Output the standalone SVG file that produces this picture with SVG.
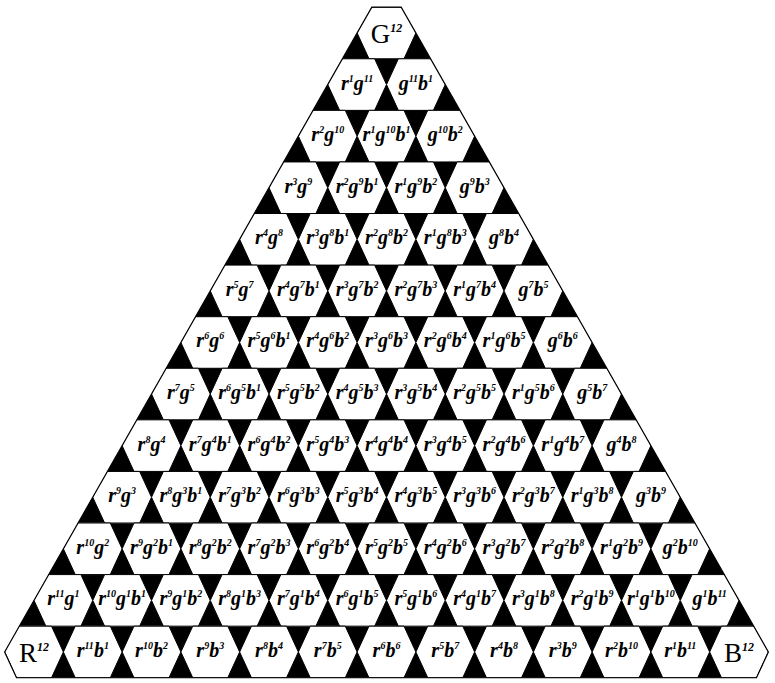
<svg xmlns="http://www.w3.org/2000/svg" width="775" height="683" viewBox="0 0 775 683">
<style>
.hx{fill:#fff;stroke:#000;stroke-width:1}
.l{font-family:"Liberation Serif","DejaVu Serif",serif;font-size:20px;font-style:italic;font-weight:bold;text-anchor:middle;fill:#000}
.e{font-size:10px}
.c{font-family:"Liberation Serif","DejaVu Serif",serif;font-size:27px;text-anchor:middle;fill:#000}
.ce{font-size:12px;font-style:italic;font-weight:bold}
.seam{stroke:#777;stroke-width:1}
</style>
<defs>
<polygon id="hx" class="hx" points="-29.375,0 -17.5,-25.79 17.5,-25.79 29.375,0 17.5,25.79 -17.5,25.79"/>
<clipPath id="tri"><polygon points="371.81,7.21 401.19,7.21 768.38,651.96 756.5,677.75 16.5,677.75 4.63,651.96"/></clipPath>
</defs>
<rect width="775" height="683" fill="#fff"/>
<polygon id="field" points="371.81,7.21 401.19,7.21 768.38,651.96 756.5,677.75 16.5,677.75 4.63,651.96" fill="#000"/>
<g id="connectors" clip-path="url(#tri)">
<line class="seam" x1="0" y1="523.01" x2="775" y2="523.01"/>
<line class="seam" x1="0" y1="574.59" x2="775" y2="574.59"/>
<line class="seam" x1="0" y1="626.17" x2="775" y2="626.17"/>
</g>
<g id="nodes" clip-path="url(#tri)">
<g id="n0-0" transform="translate(386.5,33)"><use href="#hx"/><text class="c" y="10">G<tspan class="ce" dy="-11">12</tspan></text></g>

<g id="n1-0" transform="translate(357.13,84.58)"><use href="#hx"/><text class="l" y="5">r<tspan class="e" dy="-8">1</tspan><tspan dy="8">g</tspan><tspan class="e" dy="-8">11</tspan></text></g>
<g id="n1-1" transform="translate(415.88,84.58)"><use href="#hx"/><text class="l" y="5">g<tspan class="e" dy="-8">11</tspan><tspan dy="8">b</tspan><tspan class="e" dy="-8">1</tspan></text></g>

<g id="n2-0" transform="translate(327.75,136.16)"><use href="#hx"/><text class="l" y="5">r<tspan class="e" dy="-8">2</tspan><tspan dy="8">g</tspan><tspan class="e" dy="-8">10</tspan></text></g>
<g id="n2-1" transform="translate(386.5,136.16)"><use href="#hx"/><text class="l" y="5">r<tspan class="e" dy="-8">1</tspan><tspan dy="8">g</tspan><tspan class="e" dy="-8">10</tspan><tspan dy="8">b</tspan><tspan class="e" dy="-8">1</tspan></text></g>
<g id="n2-2" transform="translate(445.25,136.16)"><use href="#hx"/><text class="l" y="5">g<tspan class="e" dy="-8">10</tspan><tspan dy="8">b</tspan><tspan class="e" dy="-8">2</tspan></text></g>

<g id="n3-0" transform="translate(298.38,187.74)"><use href="#hx"/><text class="l" y="5">r<tspan class="e" dy="-8">3</tspan><tspan dy="8">g</tspan><tspan class="e" dy="-8">9</tspan></text></g>
<g id="n3-1" transform="translate(357.13,187.74)"><use href="#hx"/><text class="l" y="5">r<tspan class="e" dy="-8">2</tspan><tspan dy="8">g</tspan><tspan class="e" dy="-8">9</tspan><tspan dy="8">b</tspan><tspan class="e" dy="-8">1</tspan></text></g>
<g id="n3-2" transform="translate(415.88,187.74)"><use href="#hx"/><text class="l" y="5">r<tspan class="e" dy="-8">1</tspan><tspan dy="8">g</tspan><tspan class="e" dy="-8">9</tspan><tspan dy="8">b</tspan><tspan class="e" dy="-8">2</tspan></text></g>
<g id="n3-3" transform="translate(474.63,187.74)"><use href="#hx"/><text class="l" y="5">g<tspan class="e" dy="-8">9</tspan><tspan dy="8">b</tspan><tspan class="e" dy="-8">3</tspan></text></g>

<g id="n4-0" transform="translate(269,239.32)"><use href="#hx"/><text class="l" y="5">r<tspan class="e" dy="-8">4</tspan><tspan dy="8">g</tspan><tspan class="e" dy="-8">8</tspan></text></g>
<g id="n4-1" transform="translate(327.75,239.32)"><use href="#hx"/><text class="l" y="5">r<tspan class="e" dy="-8">3</tspan><tspan dy="8">g</tspan><tspan class="e" dy="-8">8</tspan><tspan dy="8">b</tspan><tspan class="e" dy="-8">1</tspan></text></g>
<g id="n4-2" transform="translate(386.5,239.32)"><use href="#hx"/><text class="l" y="5">r<tspan class="e" dy="-8">2</tspan><tspan dy="8">g</tspan><tspan class="e" dy="-8">8</tspan><tspan dy="8">b</tspan><tspan class="e" dy="-8">2</tspan></text></g>
<g id="n4-3" transform="translate(445.25,239.32)"><use href="#hx"/><text class="l" y="5">r<tspan class="e" dy="-8">1</tspan><tspan dy="8">g</tspan><tspan class="e" dy="-8">8</tspan><tspan dy="8">b</tspan><tspan class="e" dy="-8">3</tspan></text></g>
<g id="n4-4" transform="translate(504,239.32)"><use href="#hx"/><text class="l" y="5">g<tspan class="e" dy="-8">8</tspan><tspan dy="8">b</tspan><tspan class="e" dy="-8">4</tspan></text></g>

<g id="n5-0" transform="translate(239.63,290.9)"><use href="#hx"/><text class="l" y="5">r<tspan class="e" dy="-8">5</tspan><tspan dy="8">g</tspan><tspan class="e" dy="-8">7</tspan></text></g>
<g id="n5-1" transform="translate(298.38,290.9)"><use href="#hx"/><text class="l" y="5">r<tspan class="e" dy="-8">4</tspan><tspan dy="8">g</tspan><tspan class="e" dy="-8">7</tspan><tspan dy="8">b</tspan><tspan class="e" dy="-8">1</tspan></text></g>
<g id="n5-2" transform="translate(357.13,290.9)"><use href="#hx"/><text class="l" y="5">r<tspan class="e" dy="-8">3</tspan><tspan dy="8">g</tspan><tspan class="e" dy="-8">7</tspan><tspan dy="8">b</tspan><tspan class="e" dy="-8">2</tspan></text></g>
<g id="n5-3" transform="translate(415.88,290.9)"><use href="#hx"/><text class="l" y="5">r<tspan class="e" dy="-8">2</tspan><tspan dy="8">g</tspan><tspan class="e" dy="-8">7</tspan><tspan dy="8">b</tspan><tspan class="e" dy="-8">3</tspan></text></g>
<g id="n5-4" transform="translate(474.63,290.9)"><use href="#hx"/><text class="l" y="5">r<tspan class="e" dy="-8">1</tspan><tspan dy="8">g</tspan><tspan class="e" dy="-8">7</tspan><tspan dy="8">b</tspan><tspan class="e" dy="-8">4</tspan></text></g>
<g id="n5-5" transform="translate(533.38,290.9)"><use href="#hx"/><text class="l" y="5">g<tspan class="e" dy="-8">7</tspan><tspan dy="8">b</tspan><tspan class="e" dy="-8">5</tspan></text></g>

<g id="n6-0" transform="translate(210.25,342.48)"><use href="#hx"/><text class="l" y="5">r<tspan class="e" dy="-8">6</tspan><tspan dy="8">g</tspan><tspan class="e" dy="-8">6</tspan></text></g>
<g id="n6-1" transform="translate(269,342.48)"><use href="#hx"/><text class="l" y="5">r<tspan class="e" dy="-8">5</tspan><tspan dy="8">g</tspan><tspan class="e" dy="-8">6</tspan><tspan dy="8">b</tspan><tspan class="e" dy="-8">1</tspan></text></g>
<g id="n6-2" transform="translate(327.75,342.48)"><use href="#hx"/><text class="l" y="5">r<tspan class="e" dy="-8">4</tspan><tspan dy="8">g</tspan><tspan class="e" dy="-8">6</tspan><tspan dy="8">b</tspan><tspan class="e" dy="-8">2</tspan></text></g>
<g id="n6-3" transform="translate(386.5,342.48)"><use href="#hx"/><text class="l" y="5">r<tspan class="e" dy="-8">3</tspan><tspan dy="8">g</tspan><tspan class="e" dy="-8">6</tspan><tspan dy="8">b</tspan><tspan class="e" dy="-8">3</tspan></text></g>
<g id="n6-4" transform="translate(445.25,342.48)"><use href="#hx"/><text class="l" y="5">r<tspan class="e" dy="-8">2</tspan><tspan dy="8">g</tspan><tspan class="e" dy="-8">6</tspan><tspan dy="8">b</tspan><tspan class="e" dy="-8">4</tspan></text></g>
<g id="n6-5" transform="translate(504,342.48)"><use href="#hx"/><text class="l" y="5">r<tspan class="e" dy="-8">1</tspan><tspan dy="8">g</tspan><tspan class="e" dy="-8">6</tspan><tspan dy="8">b</tspan><tspan class="e" dy="-8">5</tspan></text></g>
<g id="n6-6" transform="translate(562.75,342.48)"><use href="#hx"/><text class="l" y="5">g<tspan class="e" dy="-8">6</tspan><tspan dy="8">b</tspan><tspan class="e" dy="-8">6</tspan></text></g>

<g id="n7-0" transform="translate(180.88,394.06)"><use href="#hx"/><text class="l" y="5">r<tspan class="e" dy="-8">7</tspan><tspan dy="8">g</tspan><tspan class="e" dy="-8">5</tspan></text></g>
<g id="n7-1" transform="translate(239.63,394.06)"><use href="#hx"/><text class="l" y="5">r<tspan class="e" dy="-8">6</tspan><tspan dy="8">g</tspan><tspan class="e" dy="-8">5</tspan><tspan dy="8">b</tspan><tspan class="e" dy="-8">1</tspan></text></g>
<g id="n7-2" transform="translate(298.38,394.06)"><use href="#hx"/><text class="l" y="5">r<tspan class="e" dy="-8">5</tspan><tspan dy="8">g</tspan><tspan class="e" dy="-8">5</tspan><tspan dy="8">b</tspan><tspan class="e" dy="-8">2</tspan></text></g>
<g id="n7-3" transform="translate(357.13,394.06)"><use href="#hx"/><text class="l" y="5">r<tspan class="e" dy="-8">4</tspan><tspan dy="8">g</tspan><tspan class="e" dy="-8">5</tspan><tspan dy="8">b</tspan><tspan class="e" dy="-8">3</tspan></text></g>
<g id="n7-4" transform="translate(415.88,394.06)"><use href="#hx"/><text class="l" y="5">r<tspan class="e" dy="-8">3</tspan><tspan dy="8">g</tspan><tspan class="e" dy="-8">5</tspan><tspan dy="8">b</tspan><tspan class="e" dy="-8">4</tspan></text></g>
<g id="n7-5" transform="translate(474.63,394.06)"><use href="#hx"/><text class="l" y="5">r<tspan class="e" dy="-8">2</tspan><tspan dy="8">g</tspan><tspan class="e" dy="-8">5</tspan><tspan dy="8">b</tspan><tspan class="e" dy="-8">5</tspan></text></g>
<g id="n7-6" transform="translate(533.38,394.06)"><use href="#hx"/><text class="l" y="5">r<tspan class="e" dy="-8">1</tspan><tspan dy="8">g</tspan><tspan class="e" dy="-8">5</tspan><tspan dy="8">b</tspan><tspan class="e" dy="-8">6</tspan></text></g>
<g id="n7-7" transform="translate(592.13,394.06)"><use href="#hx"/><text class="l" y="5">g<tspan class="e" dy="-8">5</tspan><tspan dy="8">b</tspan><tspan class="e" dy="-8">7</tspan></text></g>

<g id="n8-0" transform="translate(151.5,445.64)"><use href="#hx"/><text class="l" y="5">r<tspan class="e" dy="-8">8</tspan><tspan dy="8">g</tspan><tspan class="e" dy="-8">4</tspan></text></g>
<g id="n8-1" transform="translate(210.25,445.64)"><use href="#hx"/><text class="l" y="5">r<tspan class="e" dy="-8">7</tspan><tspan dy="8">g</tspan><tspan class="e" dy="-8">4</tspan><tspan dy="8">b</tspan><tspan class="e" dy="-8">1</tspan></text></g>
<g id="n8-2" transform="translate(269,445.64)"><use href="#hx"/><text class="l" y="5">r<tspan class="e" dy="-8">6</tspan><tspan dy="8">g</tspan><tspan class="e" dy="-8">4</tspan><tspan dy="8">b</tspan><tspan class="e" dy="-8">2</tspan></text></g>
<g id="n8-3" transform="translate(327.75,445.64)"><use href="#hx"/><text class="l" y="5">r<tspan class="e" dy="-8">5</tspan><tspan dy="8">g</tspan><tspan class="e" dy="-8">4</tspan><tspan dy="8">b</tspan><tspan class="e" dy="-8">3</tspan></text></g>
<g id="n8-4" transform="translate(386.5,445.64)"><use href="#hx"/><text class="l" y="5">r<tspan class="e" dy="-8">4</tspan><tspan dy="8">g</tspan><tspan class="e" dy="-8">4</tspan><tspan dy="8">b</tspan><tspan class="e" dy="-8">4</tspan></text></g>
<g id="n8-5" transform="translate(445.25,445.64)"><use href="#hx"/><text class="l" y="5">r<tspan class="e" dy="-8">3</tspan><tspan dy="8">g</tspan><tspan class="e" dy="-8">4</tspan><tspan dy="8">b</tspan><tspan class="e" dy="-8">5</tspan></text></g>
<g id="n8-6" transform="translate(504,445.64)"><use href="#hx"/><text class="l" y="5">r<tspan class="e" dy="-8">2</tspan><tspan dy="8">g</tspan><tspan class="e" dy="-8">4</tspan><tspan dy="8">b</tspan><tspan class="e" dy="-8">6</tspan></text></g>
<g id="n8-7" transform="translate(562.75,445.64)"><use href="#hx"/><text class="l" y="5">r<tspan class="e" dy="-8">1</tspan><tspan dy="8">g</tspan><tspan class="e" dy="-8">4</tspan><tspan dy="8">b</tspan><tspan class="e" dy="-8">7</tspan></text></g>
<g id="n8-8" transform="translate(621.5,445.64)"><use href="#hx"/><text class="l" y="5">g<tspan class="e" dy="-8">4</tspan><tspan dy="8">b</tspan><tspan class="e" dy="-8">8</tspan></text></g>

<g id="n9-0" transform="translate(122.13,497.22)"><use href="#hx"/><text class="l" y="5">r<tspan class="e" dy="-8">9</tspan><tspan dy="8">g</tspan><tspan class="e" dy="-8">3</tspan></text></g>
<g id="n9-1" transform="translate(180.88,497.22)"><use href="#hx"/><text class="l" y="5">r<tspan class="e" dy="-8">8</tspan><tspan dy="8">g</tspan><tspan class="e" dy="-8">3</tspan><tspan dy="8">b</tspan><tspan class="e" dy="-8">1</tspan></text></g>
<g id="n9-2" transform="translate(239.63,497.22)"><use href="#hx"/><text class="l" y="5">r<tspan class="e" dy="-8">7</tspan><tspan dy="8">g</tspan><tspan class="e" dy="-8">3</tspan><tspan dy="8">b</tspan><tspan class="e" dy="-8">2</tspan></text></g>
<g id="n9-3" transform="translate(298.38,497.22)"><use href="#hx"/><text class="l" y="5">r<tspan class="e" dy="-8">6</tspan><tspan dy="8">g</tspan><tspan class="e" dy="-8">3</tspan><tspan dy="8">b</tspan><tspan class="e" dy="-8">3</tspan></text></g>
<g id="n9-4" transform="translate(357.13,497.22)"><use href="#hx"/><text class="l" y="5">r<tspan class="e" dy="-8">5</tspan><tspan dy="8">g</tspan><tspan class="e" dy="-8">3</tspan><tspan dy="8">b</tspan><tspan class="e" dy="-8">4</tspan></text></g>
<g id="n9-5" transform="translate(415.88,497.22)"><use href="#hx"/><text class="l" y="5">r<tspan class="e" dy="-8">4</tspan><tspan dy="8">g</tspan><tspan class="e" dy="-8">3</tspan><tspan dy="8">b</tspan><tspan class="e" dy="-8">5</tspan></text></g>
<g id="n9-6" transform="translate(474.63,497.22)"><use href="#hx"/><text class="l" y="5">r<tspan class="e" dy="-8">3</tspan><tspan dy="8">g</tspan><tspan class="e" dy="-8">3</tspan><tspan dy="8">b</tspan><tspan class="e" dy="-8">6</tspan></text></g>
<g id="n9-7" transform="translate(533.38,497.22)"><use href="#hx"/><text class="l" y="5">r<tspan class="e" dy="-8">2</tspan><tspan dy="8">g</tspan><tspan class="e" dy="-8">3</tspan><tspan dy="8">b</tspan><tspan class="e" dy="-8">7</tspan></text></g>
<g id="n9-8" transform="translate(592.13,497.22)"><use href="#hx"/><text class="l" y="5">r<tspan class="e" dy="-8">1</tspan><tspan dy="8">g</tspan><tspan class="e" dy="-8">3</tspan><tspan dy="8">b</tspan><tspan class="e" dy="-8">8</tspan></text></g>
<g id="n9-9" transform="translate(650.88,497.22)"><use href="#hx"/><text class="l" y="5">g<tspan class="e" dy="-8">3</tspan><tspan dy="8">b</tspan><tspan class="e" dy="-8">9</tspan></text></g>

<g id="n10-0" transform="translate(92.75,548.8)"><use href="#hx"/><text class="l" y="5">r<tspan class="e" dy="-8">10</tspan><tspan dy="8">g</tspan><tspan class="e" dy="-8">2</tspan></text></g>
<g id="n10-1" transform="translate(151.5,548.8)"><use href="#hx"/><text class="l" y="5">r<tspan class="e" dy="-8">9</tspan><tspan dy="8">g</tspan><tspan class="e" dy="-8">2</tspan><tspan dy="8">b</tspan><tspan class="e" dy="-8">1</tspan></text></g>
<g id="n10-2" transform="translate(210.25,548.8)"><use href="#hx"/><text class="l" y="5">r<tspan class="e" dy="-8">8</tspan><tspan dy="8">g</tspan><tspan class="e" dy="-8">2</tspan><tspan dy="8">b</tspan><tspan class="e" dy="-8">2</tspan></text></g>
<g id="n10-3" transform="translate(269,548.8)"><use href="#hx"/><text class="l" y="5">r<tspan class="e" dy="-8">7</tspan><tspan dy="8">g</tspan><tspan class="e" dy="-8">2</tspan><tspan dy="8">b</tspan><tspan class="e" dy="-8">3</tspan></text></g>
<g id="n10-4" transform="translate(327.75,548.8)"><use href="#hx"/><text class="l" y="5">r<tspan class="e" dy="-8">6</tspan><tspan dy="8">g</tspan><tspan class="e" dy="-8">2</tspan><tspan dy="8">b</tspan><tspan class="e" dy="-8">4</tspan></text></g>
<g id="n10-5" transform="translate(386.5,548.8)"><use href="#hx"/><text class="l" y="5">r<tspan class="e" dy="-8">5</tspan><tspan dy="8">g</tspan><tspan class="e" dy="-8">2</tspan><tspan dy="8">b</tspan><tspan class="e" dy="-8">5</tspan></text></g>
<g id="n10-6" transform="translate(445.25,548.8)"><use href="#hx"/><text class="l" y="5">r<tspan class="e" dy="-8">4</tspan><tspan dy="8">g</tspan><tspan class="e" dy="-8">2</tspan><tspan dy="8">b</tspan><tspan class="e" dy="-8">6</tspan></text></g>
<g id="n10-7" transform="translate(504,548.8)"><use href="#hx"/><text class="l" y="5">r<tspan class="e" dy="-8">3</tspan><tspan dy="8">g</tspan><tspan class="e" dy="-8">2</tspan><tspan dy="8">b</tspan><tspan class="e" dy="-8">7</tspan></text></g>
<g id="n10-8" transform="translate(562.75,548.8)"><use href="#hx"/><text class="l" y="5">r<tspan class="e" dy="-8">2</tspan><tspan dy="8">g</tspan><tspan class="e" dy="-8">2</tspan><tspan dy="8">b</tspan><tspan class="e" dy="-8">8</tspan></text></g>
<g id="n10-9" transform="translate(621.5,548.8)"><use href="#hx"/><text class="l" y="5">r<tspan class="e" dy="-8">1</tspan><tspan dy="8">g</tspan><tspan class="e" dy="-8">2</tspan><tspan dy="8">b</tspan><tspan class="e" dy="-8">9</tspan></text></g>
<g id="n10-10" transform="translate(680.25,548.8)"><use href="#hx"/><text class="l" y="5">g<tspan class="e" dy="-8">2</tspan><tspan dy="8">b</tspan><tspan class="e" dy="-8">10</tspan></text></g>

<g id="n11-0" transform="translate(63.38,600.38)"><use href="#hx"/><text class="l" y="5">r<tspan class="e" dy="-8">11</tspan><tspan dy="8">g</tspan><tspan class="e" dy="-8">1</tspan></text></g>
<g id="n11-1" transform="translate(122.13,600.38)"><use href="#hx"/><text class="l" y="5">r<tspan class="e" dy="-8">10</tspan><tspan dy="8">g</tspan><tspan class="e" dy="-8">1</tspan><tspan dy="8">b</tspan><tspan class="e" dy="-8">1</tspan></text></g>
<g id="n11-2" transform="translate(180.88,600.38)"><use href="#hx"/><text class="l" y="5">r<tspan class="e" dy="-8">9</tspan><tspan dy="8">g</tspan><tspan class="e" dy="-8">1</tspan><tspan dy="8">b</tspan><tspan class="e" dy="-8">2</tspan></text></g>
<g id="n11-3" transform="translate(239.63,600.38)"><use href="#hx"/><text class="l" y="5">r<tspan class="e" dy="-8">8</tspan><tspan dy="8">g</tspan><tspan class="e" dy="-8">1</tspan><tspan dy="8">b</tspan><tspan class="e" dy="-8">3</tspan></text></g>
<g id="n11-4" transform="translate(298.38,600.38)"><use href="#hx"/><text class="l" y="5">r<tspan class="e" dy="-8">7</tspan><tspan dy="8">g</tspan><tspan class="e" dy="-8">1</tspan><tspan dy="8">b</tspan><tspan class="e" dy="-8">4</tspan></text></g>
<g id="n11-5" transform="translate(357.13,600.38)"><use href="#hx"/><text class="l" y="5">r<tspan class="e" dy="-8">6</tspan><tspan dy="8">g</tspan><tspan class="e" dy="-8">1</tspan><tspan dy="8">b</tspan><tspan class="e" dy="-8">5</tspan></text></g>
<g id="n11-6" transform="translate(415.88,600.38)"><use href="#hx"/><text class="l" y="5">r<tspan class="e" dy="-8">5</tspan><tspan dy="8">g</tspan><tspan class="e" dy="-8">1</tspan><tspan dy="8">b</tspan><tspan class="e" dy="-8">6</tspan></text></g>
<g id="n11-7" transform="translate(474.63,600.38)"><use href="#hx"/><text class="l" y="5">r<tspan class="e" dy="-8">4</tspan><tspan dy="8">g</tspan><tspan class="e" dy="-8">1</tspan><tspan dy="8">b</tspan><tspan class="e" dy="-8">7</tspan></text></g>
<g id="n11-8" transform="translate(533.38,600.38)"><use href="#hx"/><text class="l" y="5">r<tspan class="e" dy="-8">3</tspan><tspan dy="8">g</tspan><tspan class="e" dy="-8">1</tspan><tspan dy="8">b</tspan><tspan class="e" dy="-8">8</tspan></text></g>
<g id="n11-9" transform="translate(592.13,600.38)"><use href="#hx"/><text class="l" y="5">r<tspan class="e" dy="-8">2</tspan><tspan dy="8">g</tspan><tspan class="e" dy="-8">1</tspan><tspan dy="8">b</tspan><tspan class="e" dy="-8">9</tspan></text></g>
<g id="n11-10" transform="translate(650.88,600.38)"><use href="#hx"/><text class="l" y="5">r<tspan class="e" dy="-8">1</tspan><tspan dy="8">g</tspan><tspan class="e" dy="-8">1</tspan><tspan dy="8">b</tspan><tspan class="e" dy="-8">10</tspan></text></g>
<g id="n11-11" transform="translate(709.63,600.38)"><use href="#hx"/><text class="l" y="5">g<tspan class="e" dy="-8">1</tspan><tspan dy="8">b</tspan><tspan class="e" dy="-8">11</tspan></text></g>

<g id="n12-0" transform="translate(34,651.96)"><use href="#hx"/><text class="c" y="10">R<tspan class="ce" dy="-11">12</tspan></text></g>
<g id="n12-1" transform="translate(92.75,651.96)"><use href="#hx"/><text class="l" y="5">r<tspan class="e" dy="-8">11</tspan><tspan dy="8">b</tspan><tspan class="e" dy="-8">1</tspan></text></g>
<g id="n12-2" transform="translate(151.5,651.96)"><use href="#hx"/><text class="l" y="5">r<tspan class="e" dy="-8">10</tspan><tspan dy="8">b</tspan><tspan class="e" dy="-8">2</tspan></text></g>
<g id="n12-3" transform="translate(210.25,651.96)"><use href="#hx"/><text class="l" y="5">r<tspan class="e" dy="-8">9</tspan><tspan dy="8">b</tspan><tspan class="e" dy="-8">3</tspan></text></g>
<g id="n12-4" transform="translate(269,651.96)"><use href="#hx"/><text class="l" y="5">r<tspan class="e" dy="-8">8</tspan><tspan dy="8">b</tspan><tspan class="e" dy="-8">4</tspan></text></g>
<g id="n12-5" transform="translate(327.75,651.96)"><use href="#hx"/><text class="l" y="5">r<tspan class="e" dy="-8">7</tspan><tspan dy="8">b</tspan><tspan class="e" dy="-8">5</tspan></text></g>
<g id="n12-6" transform="translate(386.5,651.96)"><use href="#hx"/><text class="l" y="5">r<tspan class="e" dy="-8">6</tspan><tspan dy="8">b</tspan><tspan class="e" dy="-8">6</tspan></text></g>
<g id="n12-7" transform="translate(445.25,651.96)"><use href="#hx"/><text class="l" y="5">r<tspan class="e" dy="-8">5</tspan><tspan dy="8">b</tspan><tspan class="e" dy="-8">7</tspan></text></g>
<g id="n12-8" transform="translate(504,651.96)"><use href="#hx"/><text class="l" y="5">r<tspan class="e" dy="-8">4</tspan><tspan dy="8">b</tspan><tspan class="e" dy="-8">8</tspan></text></g>
<g id="n12-9" transform="translate(562.75,651.96)"><use href="#hx"/><text class="l" y="5">r<tspan class="e" dy="-8">3</tspan><tspan dy="8">b</tspan><tspan class="e" dy="-8">9</tspan></text></g>
<g id="n12-10" transform="translate(621.5,651.96)"><use href="#hx"/><text class="l" y="5">r<tspan class="e" dy="-8">2</tspan><tspan dy="8">b</tspan><tspan class="e" dy="-8">10</tspan></text></g>
<g id="n12-11" transform="translate(680.25,651.96)"><use href="#hx"/><text class="l" y="5">r<tspan class="e" dy="-8">1</tspan><tspan dy="8">b</tspan><tspan class="e" dy="-8">11</tspan></text></g>
<g id="n12-12" transform="translate(739,651.96)"><use href="#hx"/><text class="c" y="10">B<tspan class="ce" dy="-11">12</tspan></text></g>
</g>
<polygon id="outline" points="371.81,7.21 401.19,7.21 768.38,651.96 756.5,677.75 16.5,677.75 4.63,651.96" fill="none" stroke="#000" stroke-width="1.2"/>
</svg>
